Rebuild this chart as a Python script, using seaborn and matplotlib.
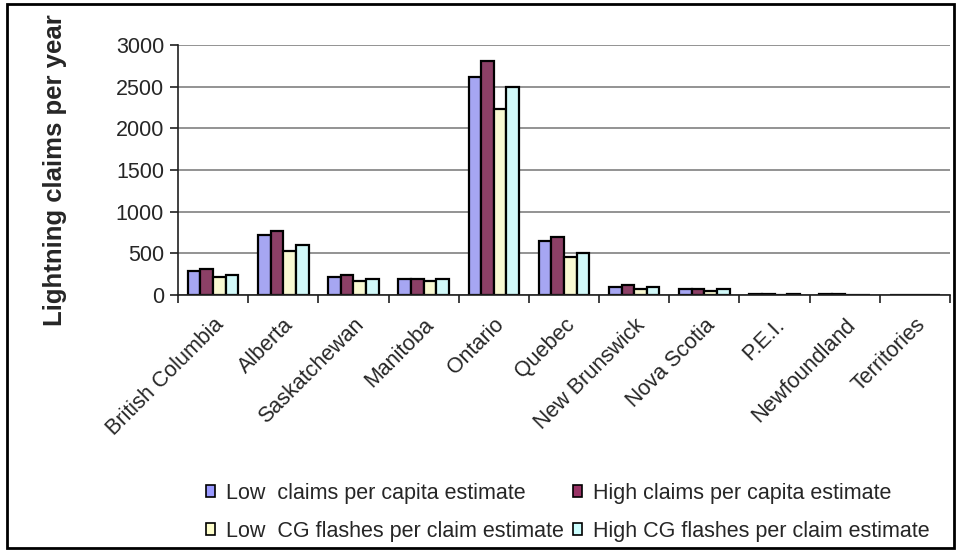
import numpy as np
import pandas as pd
import seaborn as sns
import matplotlib.pyplot as plt
import matplotlib.transforms as mtransforms
from matplotlib.patches import Rectangle

provinces = ["British Columbia", "Alberta", "Saskatchewan", "Manitoba", "Ontario",
             "Quebec", "New Brunswick", "Nova Scotia", "P.E.I.", "Newfoundland",
             "Territories"]
series = ["Low  claims per capita estimate", "High claims per capita estimate",
          "Low  CG flashes per claim estimate", "High CG flashes per claim estimate"]

low_claims = [288, 725, 221, 197, 2620, 653, 101, 77, 15, 15, 0]
high_claims = [317, 773, 245, 197, 2813, 701, 125, 77, 18, 15, 0]
low_cg = [221, 528, 173, 173, 2237, 461, 77, 53, 0, 0, 0]
high_cg = [245, 600, 197, 197, 2500, 509, 101, 77, 12, 0, 0]

colors = ["#9999FF", "#993366", "#FFFFCC", "#CCFFFF"]

df = pd.DataFrame({
    "province": provinces * 4,
    "series": np.repeat(series, len(provinces)),
    "claims": low_claims + high_claims + low_cg + high_cg,
})

sns.set_theme(style="white")
plt.rcParams["font.family"] = ["Liberation Sans", "DejaVu Sans"]

fig = plt.figure(figsize=(9.57, 5.52), dpi=100)
ax = fig.add_axes([178 / 957, 1 - 295 / 552, 772 / 957, 250 / 552])

sns.barplot(data=df, x="province", y="claims", hue="series", palette=colors,
            edgecolor="black", linewidth=1.6, width=0.72, ax=ax, legend=False)

ax.set_ylim(0, 3000)
ax.set_xlim(-0.5, len(provinces) - 0.5)
ax.set_yticks(np.arange(0, 3001, 500))
ax.yaxis.grid(True, color="#808080", linewidth=1.2)
ax.set_axisbelow(True)
ax.set_xlabel("")
ax.set_ylabel("")
for s in ["top", "right"]:
    ax.spines[s].set_visible(False)
for s in ["left", "bottom"]:
    ax.spines[s].set_color("#202020")
    ax.spines[s].set_linewidth(1.2)

ax.set_xticks(np.arange(len(provinces)))
ax.set_xticklabels(provinces, rotation=45, ha="right", rotation_mode="anchor",
                   fontsize=15.5)
shift = mtransforms.ScaledTranslation(-4 / 100, 0, fig.dpi_scale_trans)
for lbl in ax.get_xticklabels():
    lbl.set_transform(lbl.get_transform() + shift)
ax.set_xticks(np.arange(len(provinces) + 1) - 0.5, minor=True)
ax.tick_params(axis="x", which="major", length=0, pad=14)
ax.tick_params(axis="x", which="minor", length=6, color="#202020", width=1.2,
               direction="out", bottom=True)
ax.tick_params(axis="y", length=6, color="#202020", width=1.2, direction="out",
               left=True, labelsize=15.5, pad=4)

fig.text(55 / 957, 1 - 170 / 552, "Lightning claims per year", rotation=90,
         fontsize=18.5, fontweight="bold", ha="center", va="center")

handles = [Rectangle((0, 0), 1, 1, facecolor=c, edgecolor="black", linewidth=1.2)
           for c in colors]
order = [0, 2, 1, 3]
fig.legend([handles[i] for i in order], [series[i] for i in order],
           loc="upper left", bbox_to_anchor=(197 / 957, 1 - 474 / 552), ncol=2,
           frameon=False, fontsize=15.5, handlelength=0.45, handleheight=0.45,
           handletextpad=0.5, columnspacing=0.4, labelspacing=0.8,
           borderaxespad=0)

fig.add_artist(Rectangle((7 / 957, 4 / 552), 947 / 957, 544 / 552,
                         transform=fig.transFigure, fill=False,
                         edgecolor="black", linewidth=2))

fig.savefig("out.png", dpi=100)
